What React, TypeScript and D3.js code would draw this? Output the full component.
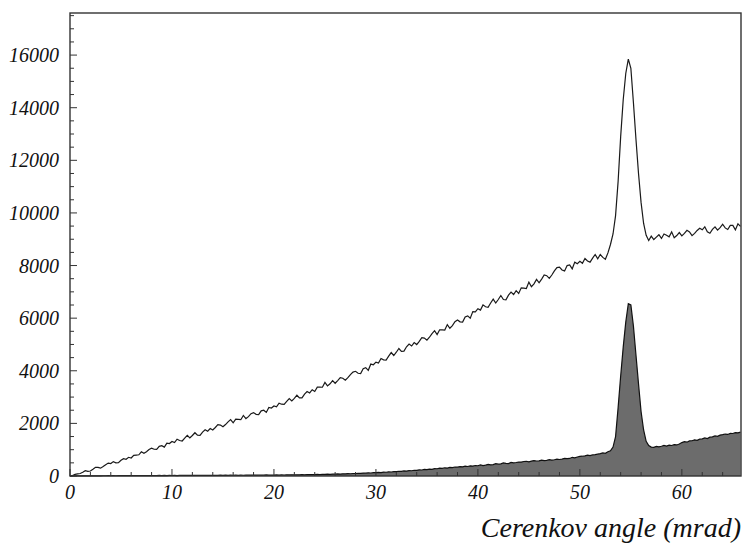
import React from "react";
import * as d3 from "d3";

// Bin width 0.25 mrad, starting at 0 mrad
const BIN_WIDTH = 0.25;

// Upper histogram (all candidates), counts per bin
const allCounts: number[] = [
  0, 15, 60, 80, 95, 140, 200, 175,
  190, 256, 328, 328, 298, 358, 430, 490,
  472, 546, 501, 509, 596, 658, 637, 711,
  684, 785, 796, 807, 920, 865, 924, 1007,
  1060, 1017, 1012, 1127, 1152, 1097, 1245, 1235,
  1310, 1270, 1400, 1350, 1330, 1442, 1545, 1447,
  1540, 1645, 1550, 1545, 1670, 1755, 1700, 1805,
  1750, 1845, 1950, 1935, 1870, 1955, 2060, 2145,
  2020, 2160, 2150, 2140, 2300, 2182, 2255, 2367,
  2410, 2345, 2330, 2475, 2500, 2417, 2605, 2582,
  2660, 2630, 2770, 2730, 2720, 2837, 2945, 2852,
  2952, 3071, 2971, 2969, 3111, 3211, 3157, 3279,
  3214, 3377, 3376, 3374, 3560, 3427, 3504, 3624,
  3525, 3626, 3738, 3718, 3643, 3738, 3855, 3950,
  3980, 3905, 3892, 4080, 4117, 4017, 4255, 4230,
  4330, 4292, 4467, 4417, 4405, 4555, 4692, 4580,
  4705, 4847, 4740, 4745, 4912, 5015, 4942, 5070,
  4997, 5120, 5255, 5240, 5162, 5275, 5412, 5525,
  5375, 5557, 5552, 5547, 5755, 5617, 5717, 5867,
  5930, 5860, 5852, 6045, 6087, 6000, 6250, 6237,
  6360, 6305, 6505, 6435, 6410, 6575, 6725, 6575,
  6710, 6860, 6710, 6695, 6875, 6992, 6900, 7047,
  6940, 7152, 7140, 7127, 7370, 7195, 7305, 7475,
  7345, 7485, 7640, 7615, 7515, 7640, 7795, 7920,
  7940, 7830, 7795, 8000, 8025, 7875, 8130, 8070,
  8160, 8085, 8265, 8175, 8130, 8282, 8420, 8257,
  8420, 8310, 8240, 8480, 8800, 9200, 9900, 11200,
  12900, 14300, 15300, 15850, 15500, 14200, 12800, 11500,
  10400, 9600, 9150, 8950, 9120, 8990, 9080, 9170,
  9030, 9200, 9150, 9090, 9280, 9060, 9140, 9255,
  9125, 9225, 9340, 9275, 9135, 9220, 9335, 9420,
  9360, 9475, 9280, 9225, 9375, 9470, 9345, 9440,
  9570, 9430, 9370, 9525, 9525, 9355, 9590, 9490,
];

// Lower histogram (selected), counts per bin
const selectedCounts: number[] = [
  0, 2, 3, 5, 4, 6, 5, 7,
  6, 8, 7, 9, 8, 10, 9, 11,
  10, 12, 9, 13, 11, 14, 12, 15,
  13, 16, 12, 17, 14, 18, 15, 17,
  16, 19, 15, 20, 17, 21, 18, 20,
  19, 22, 18, 23, 20, 24, 21, 25,
  22, 26, 21, 27, 23, 28, 24, 27,
  25, 29, 24, 30, 26, 31, 27, 30,
  28, 32, 27, 33, 29, 35, 30, 34,
  31, 36, 32, 38, 33, 39, 35, 38,
  36, 41, 35, 42, 38, 44, 39, 43,
  40, 47, 43, 50, 46, 54, 49, 55,
  52, 60, 56, 64, 60, 69, 64, 72,
  70, 78, 74, 84, 80, 90, 86, 95,
  96, 105, 101, 112, 108, 120, 115, 126,
  125, 138, 132, 148, 142, 158, 152, 166,
  165, 180, 174, 193, 188, 206, 200, 218,
  215, 235, 228, 250, 242, 262, 255, 278,
  275, 296, 288, 312, 302, 325, 318, 342,
  335, 358, 348, 372, 362, 385, 376, 398,
  390, 420, 398, 412, 440, 425, 432, 468,
  450, 462, 495, 480, 472, 515, 500, 512,
  530, 528, 552, 560, 538, 566, 585, 570,
  575, 602, 586, 592, 620, 605, 618, 640,
  628, 640, 670, 662, 668, 710, 690, 722,
  745, 752, 768, 790, 775, 800, 812, 830,
  850, 876, 860, 920, 960, 1100, 1500, 2600,
  3800, 4900, 5850, 6550, 6500, 5700, 4600, 3500,
  2450, 1750, 1320, 1160, 1100, 1090, 1125, 1105,
  1130, 1160, 1140, 1175, 1160, 1195, 1180, 1215,
  1270, 1305, 1285, 1335, 1340, 1375, 1355, 1400,
  1410, 1445, 1425, 1475, 1490, 1525, 1505, 1555,
  1570, 1595, 1580, 1620, 1615, 1650, 1640, 1665,
];

const yTickValues: number[] = [0, 2000, 4000, 6000, 8000, 10000, 12000, 14000, 16000];
const xTickValues: number[] = [0, 10, 20, 30, 40, 50, 60];
const xTitle = "Cerenkov angle (mrad)";

const W = 743;
const H = 543;
const FONT = "'Liberation Serif', 'Times New Roman', serif";

export default function App() {
  const x = d3.scaleLinear().domain([0, 65.8]).range([70, 741]);
  const y = d3.scaleLinear().domain([0, 17600]).range([476, 13]);

  const allPts = allCounts.map((v, i) => [i * BIN_WIDTH, v] as [number, number]);
  const selPts = selectedCounts.map((v, i) => [i * BIN_WIDTH, v] as [number, number]);

  const line = d3
    .line<[number, number]>()
    .x((d) => x(d[0]))
    .y((d) => y(d[1]))
    .curve(d3.curveLinear);
  const area = d3
    .area<[number, number]>()
    .x((d) => x(d[0]))
    .y0(y(0))
    .y1((d) => y(d[1]))
    .curve(d3.curveLinear);

  const yMinor = d3.range(0, 17600, 500);
  const xMinor = d3.range(0, 65.8, 2);

  const [x0, x1] = x.range();
  const [yb, yt] = y.range();

  return (
    <svg
      width={W}
      height={H}
      style={{ position: "absolute", left: 0, top: 0, background: "#fff" }}
    >
      <rect x={0} y={0} width={W} height={H} fill="#fff" />
      {/* filled selected histogram */}
      <path d={area(selPts) ?? ""} fill="#6c6c6c" stroke="none" />
      <path d={line(selPts) ?? ""} fill="none" stroke="#111" strokeWidth={1.2} />
      {/* all-candidates histogram */}
      <path d={line(allPts) ?? ""} fill="none" stroke="#1a1a1a" strokeWidth={1.2} />

      {/* ticks on left axis */}
      {yMinor.map((v) => (
        <line
          key={"ym" + v}
          x1={x0}
          x2={x0 + (v % 2000 === 0 ? 7 : 4)}
          y1={y(v)}
          y2={y(v)}
          stroke="#333"
          strokeWidth={1}
        />
      ))}
      {/* ticks on bottom axis */}
      {xMinor.map((v) => (
        <line
          key={"xm" + v}
          x1={x(v)}
          x2={x(v)}
          y1={yb}
          y2={yb - (v % 10 === 0 ? 7 : 4)}
          stroke="#333"
          strokeWidth={1}
        />
      ))}

      {/* frame */}
      <rect
        x={x0}
        y={yt}
        width={x1 - x0}
        height={yb - yt}
        fill="none"
        stroke="#333"
        strokeWidth={1.4}
      />

      {/* y tick labels */}
      {yTickValues.map((v) => (
        <text
          key={"yl" + v}
          x={59}
          y={y(v)}
          dy="0.35em"
          textAnchor="end"
          fontFamily={FONT}
          fontStyle="italic"
          fontSize={20}
          fill="#111"
        >
          {v}
        </text>
      ))}
      {/* x tick labels */}
      {xTickValues.map((v) => (
        <text
          key={"xl" + v}
          x={x(v)}
          y={499}
          textAnchor="middle"
          fontFamily={FONT}
          fontStyle="italic"
          fontSize={20}
          fill="#111"
        >
          {v}
        </text>
      ))}
      <text
        x={741}
        y={537}
        textAnchor="end"
        fontFamily={FONT}
        fontStyle="italic"
        fontSize={28}
        fill="#111"
      >
        {xTitle}
      </text>
    </svg>
  );
}
